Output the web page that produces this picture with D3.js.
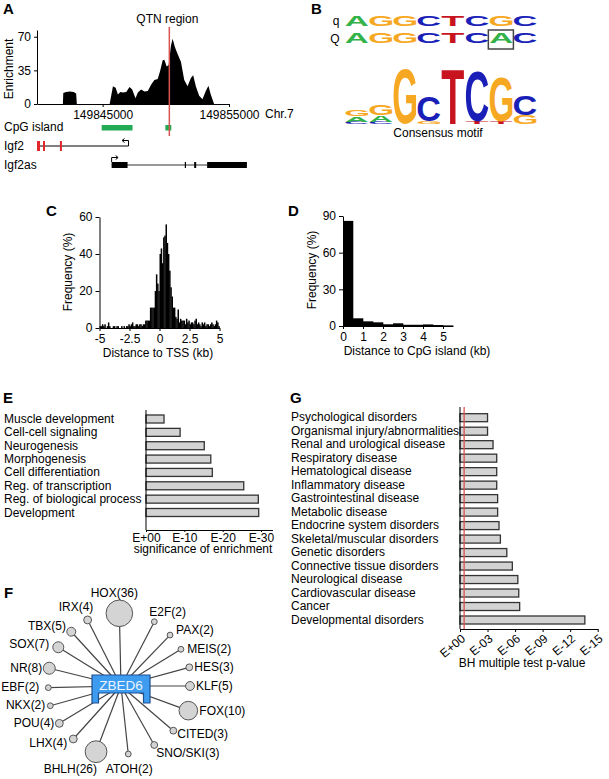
<!DOCTYPE html>
<html><head><meta charset="utf-8">
<script src="https://cdn.jsdelivr.net/npm/d3@7"></script>
<style>
body{margin:0;background:#fff}
svg{display:block}
</style>
</head><body>
<svg id="fig" width="609" height="779"></svg>
<script>
// ================= DATA =================
// Panel A: ChIP enrichment profile (bp position, enrichment)
const profilePos = [149841850,149841880,149842100,149842400,149842700,149842900,149842953,
  149845551,149845813,149846024,149846207,149846391,149846601,149846864,149847126,149847336,
  149847598,149847782,149848045,149848307,149848570,149848832,149849094,149849357,149849541,
  149849751,149849882,149850066,149850223,149850406,149850538,149850721,149850931,149851194,
  149851457,149851719,149851982,149852165,149852375,149852638,149852900,149853163,149853373,
  149853557,149853819];
const profileVal = [0,11.5,12.5,13,12.5,11,0,
  0,18.6,17,10,12.5,12,12.5,17.6,15,6,12,15,13,13.5,20,25,26,34,45.6,46,39,40.6,61,68,59,52,44,25,18.6,27,30,18.6,8.5,5,13.5,19,10,0];
const enrichTicks = [0, 35, 70];
const chrTicks = [149845000, 149855000];
const qtnPos = 149850276;
const cpgStart = [149844921, 149849961];
const cpgEnd   = [149847362, 149850433];
const igf2Span = [149839803, 149847047];
const igf2ExonStart = [149839803, 149840276, 149841614];
const igf2ExonEnd   = [149840039, 149840433, 149841772];
const igf2asSpan = [149845709, 149853268];
const igf2asExonStart = [149845709, 149851500, 149852244, 149853268];
const igf2asExonEnd   = [149846969, 149851580, 149852402, 149856417];

// Panel B: sequences and consensus motif
const seqNames = ["q", "Q"];
const seqRows = ["AGGCTCGC", "AGGCTCAC"];
const motifPos = [1, 2, 3, 4, 5, 6, 7, 8];
const snpPos = 7;
const consensusLetters = [["C","A","G"],["C","A","G"],["G"],["G","C"],["T"],["T","C"],["T","G"],["G","C"]];
const consensusBits = [[0.07,0.2,0.24],[0.07,0.24,0.36],[1.96],[0.1,0.9],[1.96],[0.07,1.78],[0.07,1.6],[0.32,0.71]];

// Panel C: distance to TSS histogram (0.1 kb bins from -5 kb)
const tssBinFirst = -5, tssBinWidth = 0.1;
const tssFreq = [1,1,2,1,2,0,1,3,1,0,
  0,1,1,0,1,1,0,0,1,0,
  1,0,1,1,2,1,2,3,1,1,
  2,2,1,2,2,1,2,2,4,4,
  4,4,11,11,11,11,20,29,24,20,
  40,43,35,49,50,56,46,40,31,22,
  17,11,11,6,5,10,3,5,4,4,
  4,2,5,3,4,2,3,3,2,4,
  5,2,3,2,1,3,2,3,1,2,
  2,1,2,3,2,1,2,4,3,1];
const tssTicks = [-5, -2.5, 0, 2.5, 5];
const tssFreqTicks = [0, 20, 40, 60];

// Panel D: distance to CpG island histogram (0.5 kb bins)
const cpgBinWidth = 0.5;
const cpgFreq = [86, 6.3, 3.8, 3, 1.4, 2.2, 1, 1, 1.3, 0.8, 0.5];
const cpgTicks = [0, 1, 2, 3, 4, 5];
const cpgFreqTicks = [0, 30, 60, 90];

// Panel E: GO enrichment (-log10 significance)
const goTerms = ["Muscle development","Cell-cell signaling","Neurogenesis","Morphogenesis",
  "Cell differentiation","Reg. of transcription","Reg. of biological process","Development"];
const goScore = [4.7, 8.9, 15.2, 16.9, 17.3, 25.5, 29.3, 29.4];
const goTicks = [0, 10, 20, 30];
const goTickLabels = ["E+00", "E-10", "E-20", "E-30"];

// Panel G: disease categories (-log10 BH p-value)
const diseases = ["Psychological disorders","Organismal injury/abnormalities","Renal and urological disease",
  "Respiratory disease","Hematological disease","Inflammatory disease","Gastrointestinal disease",
  "Metabolic disease","Endocrine system disorders","Skeletal/muscular disorders","Genetic disorders",
  "Connective tissue disorders","Neurological disease","Cardiovascular disease","Cancer","Developmental disorders"];
const diseaseScore = [3.0, 3.0, 3.6, 4.0, 4.0, 4.0, 4.1, 4.1, 4.25, 4.4, 5.1, 5.7, 6.3, 6.4, 6.5, 13.6];
const bhTicks = [0, 3, 6, 9, 12, 15];
const bhTickLabels = ["E+00", "E-03", "E-06", "E-09", "E-12", "E-15"];
const bhThreshold = 0.45;

// Panel F: TF families bound by ZBED6 (number of genes)
const tfFamilies = ["HOX","E2F","PAX","MEIS","HES","KLF","FOX","CITED","SNO/SKI","ATOH","BHLH","LHX","POU","NKX","EBF","NR","SOX","TBX","IRX"];
const tfCounts   = [36, 2, 2, 2, 3, 5, 10, 3, 3, 2, 26, 4, 4, 2, 2, 8, 7, 5, 4];

// ================= LAYOUT / DRAWING =================
const svg = d3.select("#fig");
const FONT = '"Liberation Sans", Arial, Helvetica, sans-serif';
svg.attr("font-family", FONT).attr("font-size", 12);

function txt(x, y, s, o = {}) {
  const t = svg.append("text").attr("x", x).attr("y", y).text(s)
    .attr("text-anchor", o.anchor || "start").attr("font-size", o.size || 12)
    .attr("fill", o.fill || "#000").attr("font-family", FONT);
  if (o.bold) t.attr("font-weight", "bold");
  if (o.rotate) t.attr("transform", `rotate(${o.rotate},${x},${y})`);
  return t;
}
function styleAxis(g) {
  g.attr("font-family", FONT).attr("font-size", 12);
  g.select(".domain").attr("stroke", "#000").attr("stroke-width", 1);
  g.selectAll(".tick line").attr("stroke", "#000");
  g.selectAll(".tick text").attr("fill", "#000");
  return g;
}
const plain = d => String(d);

// panel letters
txt(3, 14, "A", {bold: true, size: 15});
txt(311, 14, "B", {bold: true, size: 15});
txt(46, 216, "C", {bold: true, size: 15});
txt(288, 216, "D", {bold: true, size: 15});
txt(3, 403, "E", {bold: true, size: 15});
txt(290, 403, "G", {bold: true, size: 15});
txt(4, 598, "F", {bold: true, size: 15});

// ---------- Panel A ----------
const xA = d3.scaleLinear().domain([149839800, 149855000]).range([37, 229]);
const yA = d3.scaleLinear().domain([0, 77]).range([104, 30]);
svg.append("path").datum(profileVal)
  .attr("d", d3.area().x((d, i) => xA(profilePos[i])).y0(yA(0)).y1(d => yA(d)))
  .attr("fill", "#000");
styleAxis(svg.append("g").attr("transform", `translate(0,${yA(0)})`)
  .call(d3.axisBottom(xA).tickValues(chrTicks).tickFormat(d3.format("d")).tickSize(3).tickSizeOuter(0)));
styleAxis(svg.append("g").attr("transform", `translate(${xA.range()[0]},0)`)
  .call(d3.axisLeft(yA).tickValues(enrichTicks).tickFormat(plain).tickSize(3).tickSizeOuter(0)));
txt(13, 69, "Enrichment", {anchor: "middle", rotate: -90});
txt(265, 118, "Chr.7");

// CpG islands
txt(4, 131, "CpG island");
svg.append("g").selectAll("rect").data(cpgStart).join("rect")
  .attr("x", d => xA(d)).attr("width", (d, i) => xA(cpgEnd[i]) - xA(d))
  .attr("y", 125).attr("height", 5.5).attr("fill", "#22aa55");

// Igf2
txt(4, 150, "Igf2");
svg.append("line").attr("x1", xA(igf2Span[0])).attr("x2", xA(igf2Span[1]))
  .attr("y1", 146).attr("y2", 146).attr("stroke", "#000").attr("stroke-width", 1);
svg.append("g").selectAll("rect").data(igf2ExonStart).join("rect")
  .attr("x", d => xA(d)).attr("width", (d, i) => Math.max(2, xA(igf2ExonEnd[i]) - xA(d)))
  .attr("y", 141).attr("height", 10).attr("fill", "#e0262a");
{
  const tx = xA(igf2Span[1]);
  svg.append("path").attr("d", `M${tx},146V140.5H${tx - 6}`).attr("fill", "none").attr("stroke", "#000");
  svg.append("path").attr("d", `M${tx - 4},138.5L${tx - 6.5},140.5L${tx - 4},142.5`).attr("fill", "none").attr("stroke", "#000");
}
// Igf2as
txt(4, 169, "Igf2as");
svg.append("line").attr("x1", xA(igf2asSpan[0])).attr("x2", xA(igf2asSpan[1]))
  .attr("y1", 165).attr("y2", 165).attr("stroke", "#333").attr("stroke-width", 1);
svg.append("g").selectAll("rect").data(igf2asExonStart).join("rect")
  .attr("x", d => xA(d)).attr("width", (d, i) => Math.max(1.2, xA(igf2asExonEnd[i]) - xA(d)))
  .attr("y", 162).attr("height", 6).attr("fill", "#000");
{
  const sx = xA(igf2asSpan[0]);
  svg.append("path").attr("d", `M${sx},162V157.5H${sx + 6}`).attr("fill", "none").attr("stroke", "#000");
  svg.append("path").attr("d", `M${sx + 4},155.5L${sx + 6.5},157.5L${sx + 4},159.5`).attr("fill", "none").attr("stroke", "#000");
}
// QTN line
svg.append("line").attr("x1", xA(qtnPos)).attr("x2", xA(qtnPos)).attr("y1", 27).attr("y2", 136)
  .attr("stroke", "#d9534f").attr("stroke-width", 1.5);
txt(xA(qtnPos) - 2, 23, "QTN region", {anchor: "middle"});

// ---------- Panel B ----------
const ctx = document.createElement("canvas").getContext("2d");
ctx.font = 'bold 100px "Liberation Sans"';
const letterColor = {A: "#33b24a", C: "#1a1fb8", G: "#f7a823", T: "#c8141e"};
function glyph(ch, x, y, w, h) {
  if (h < 0.5) return;
  const m = ctx.measureText(ch);
  const L = m.actualBoundingBoxLeft, R = m.actualBoundingBoxRight;
  const A = m.actualBoundingBoxAscent, D = m.actualBoundingBoxDescent;
  const sx = w / (L + R), sy = h / (A + D);
  svg.append("text").text(ch).attr("font-family", '"Liberation Sans"').attr("font-weight", "bold")
    .attr("font-size", 100).attr("fill", letterColor[ch])
    .attr("transform", `translate(${x + L * sx},${y + A * sy}) scale(${sx},${sy})`);
}
const bx = d3.scaleBand().domain(motifPos).range([345, 537]).paddingInner(0.06).paddingOuter(0.02);
const rowTop = [16, 33.5], rowH = 9.8, rowBase = [24.5, 43];
seqRows.forEach((row, r) => {
  txt(339.5, rowBase[r], seqNames[r], {anchor: "end"});
  row.split("").forEach((ch, i) => glyph(ch, bx(motifPos[i]), rowTop[r], bx.bandwidth(), rowH));
});
svg.append("rect").attr("x", bx(snpPos) - 1.5).attr("y", 30).attr("width", bx.step() + 1).attr("height", 19)
  .attr("fill", "none").attr("stroke", "#444").attr("stroke-width", 1.5);
const yB = d3.scaleLinear().domain([0, 2]).range([124, 68]);
consensusLetters.forEach((stack, i) => {
  let acc = 0;
  stack.forEach((ch, j) => {
    const b = consensusBits[i][j];
    const yTop = yB(acc + b), yBot = yB(acc);
    glyph(ch, bx(motifPos[i]), yTop, bx.bandwidth(), yBot - yTop);
    acc += b;
  });
});
txt(438, 137, "Consensus motif", {anchor: "middle"});

// ---------- Panel C ----------
const xC = d3.scaleLinear().domain([-5, 5]).range([99.5, 219.5]);
const yC = d3.scaleLinear().domain([0, 60]).range([328, 217]);
svg.append("g").selectAll("rect").data(tssFreq).join("rect")
  .attr("x", (d, i) => xC(tssBinFirst + i * tssBinWidth))
  .attr("width", xC(tssBinWidth) - xC(0) + 0.3)
  .attr("y", d => yC(d)).attr("height", d => yC(0) - yC(d)).attr("fill", "#000");
styleAxis(svg.append("g").attr("transform", `translate(0,${yC(0)})`)
  .call(d3.axisBottom(xC).tickValues(tssTicks).tickFormat(plain).tickSize(3).tickSizeOuter(0)));
styleAxis(svg.append("g").attr("transform", `translate(${xC(-5)},0)`)
  .call(d3.axisLeft(yC).tickValues(tssFreqTicks).tickFormat(plain).tickSize(4).tickSizeOuter(0)));
txt(158, 357, "Distance to TSS (kb)", {anchor: "middle"});
txt(72, 272, "Frequency (%)", {anchor: "middle", rotate: -90});

// ---------- Panel D ----------
const xD = d3.scaleLinear().domain([0, 5.5]).range([343, 453]);
const yD = d3.scaleLinear().domain([0, 90]).range([326, 216]);
svg.append("g").selectAll("rect").data(cpgFreq).join("rect")
  .attr("x", (d, i) => xD(i * cpgBinWidth))
  .attr("width", xD(cpgBinWidth) - xD(0) + 0.3)
  .attr("y", d => yD(d)).attr("height", d => yD(0) - yD(d)).attr("fill", "#000");
styleAxis(svg.append("g").attr("transform", `translate(0,${yD(0)})`)
  .call(d3.axisBottom(xD).tickValues(cpgTicks).tickFormat(plain).tickSize(3).tickSizeOuter(0)));
styleAxis(svg.append("g").attr("transform", `translate(${xD(0)},0)`)
  .call(d3.axisLeft(yD).tickValues(cpgFreqTicks).tickFormat(plain).tickSize(4).tickSizeOuter(0)));
txt(417, 355, "Distance to CpG island (kb)", {anchor: "middle"});
txt(316, 270, "Frequency (%)", {anchor: "middle", rotate: -90});

// ---------- Panel E ----------
const xE = d3.scaleLinear().domain([0, 33]).range([146, 272.5]);
const yE = d3.scalePoint().domain(goTerms).range([419, 512.5]);
const axisYE = 530;
svg.append("g").selectAll("rect").data(goScore).join("rect")
  .attr("x", xE(0)).attr("y", (d, i) => yE(goTerms[i]) - 4)
  .attr("width", d => xE(d) - xE(0)).attr("height", 8)
  .attr("fill", "#d3d3d3").attr("stroke", "#333").attr("stroke-width", 1.3);
goTerms.forEach(t => txt(4, yE(t) + 4, t));
svg.append("line").attr("x1", xE(0)).attr("x2", xE(0)).attr("y1", 410).attr("y2", axisYE)
  .attr("stroke", "#000");
styleAxis(svg.append("g").attr("transform", `translate(0,${axisYE})`)
  .call(d3.axisBottom(xE).tickValues(goTicks).tickFormat((d, i) => goTickLabels[i]).tickSize(2).tickPadding(1).tickSizeOuter(0)));
txt(203, 553, "significance of enrichment", {anchor: "middle"});

// ---------- Panel G ----------
const xG = d3.scaleLinear().domain([0, 15]).range([460, 597.7]);
const yG = d3.scalePoint().domain(diseases).range([417.7, 620]);
const axisYG = 629;
svg.append("g").selectAll("rect").data(diseaseScore).join("rect")
  .attr("x", xG(0)).attr("y", (d, i) => yG(diseases[i]) - 4)
  .attr("width", d => xG(d) - xG(0)).attr("height", 8)
  .attr("fill", "#d3d3d3").attr("stroke", "#333").attr("stroke-width", 1.3);
diseases.forEach(t => txt(291, yG(t) + 3.5, t));
svg.append("line").attr("x1", xG(0)).attr("x2", xG(0)).attr("y1", 407).attr("y2", axisYG).attr("stroke", "#000");
styleAxis(svg.append("g").attr("transform", `translate(0,${axisYG})`)
  .call(d3.axisBottom(xG).tickValues(bhTicks).tickFormat("").tickSize(3).tickSizeOuter(0)));
bhTicks.forEach((t, i) => {
  const x = xG(t) + 6, y = axisYG + 11;
  txt(x, y, bhTickLabels[i], {anchor: "end", rotate: -40});
});
svg.append("line").attr("x1", xG(bhThreshold)).attr("x2", xG(bhThreshold)).attr("y1", 407).attr("y2", axisYG)
  .attr("stroke", "#e05050").attr("stroke-width", 1.3);
txt(522, 667, "BH multiple test p-value", {anchor: "middle"});

// ---------- Panel F ----------
// layout: [angle (deg), distance, label anchor, label dx, label dy]
const tfLayout = [
  [91.3, 72.7, "middle", -5, -16.3],
  [62.6, 72.4, "start", -5, -6],
  [46.1, 70.7, "start", 6, -1],
  [31.5, 70.3, "start", 6.3, 4],
  [15.3, 70.8, "start", 5, 4],
  [0, 69, "start", 6, 4],
  [-20.1, 71.7, "start", 11, 4.3],
  [-40.5, 68.8, "start", 4, 7.6],
  [-60.6, 67.7, "start", 2, 11.7],
  [-83.9, 68.4, "middle", 1, 19],
  [249.2, 70.3, "middle", -25.7, 21.3],
  [228, 71.3, "end", -6, 7.7],
  [211.2, 72.1, "end", -5, 3.4],
  [195.6, 73.4, "end", -5, 3.3],
  [181.3, 72.7, "end", -9, 3],
  [166.1, 73.9, "end", -7, 3.7],
  [148.3, 73.7, "end", -9, 0.7],
  [132.5, 73.6, "end", -5.3, -1.7],
  [116.8, 74, "end", 5.7, -9]
];
const fcx = 121, fcy = 686;
const rF = d3.scaleLinear().domain([2, 8, 10, 26, 36]).range([2.9, 6, 9.3, 10.9, 13.3]);
const nodes = tfFamilies.map((f, i) => {
  const [ang, dist, anchor, dx, dy] = tfLayout[i];
  const a = ang * Math.PI / 180;
  return {name: f, n: tfCounts[i], x: fcx + dist * Math.cos(a), y: fcy - dist * Math.sin(a), anchor, dx, dy};
});
svg.append("g").selectAll("line").data(nodes).join("line")
  .attr("x1", fcx).attr("y1", fcy).attr("x2", d => d.x).attr("y2", d => d.y)
  .attr("stroke", "#444").attr("stroke-width", 1.2);
svg.append("g").selectAll("circle").data(nodes).join("circle")
  .attr("cx", d => d.x).attr("cy", d => d.y).attr("r", d => rF(d.n))
  .attr("fill", "#d4d4d4").attr("stroke", "#555").attr("stroke-width", 1);
nodes.forEach(d => txt(d.x + d.dx, d.y + d.dy, `${d.name}(${d.n})`, {anchor: d.anchor}));
svg.append("path").attr("d", "M92,675H150V703H143.5V693H98.5V703H92Z")
  .attr("fill", "#3d9cf0").attr("stroke", "#1d4f91").attr("stroke-width", 1.2);
txt(121, 689.5, "ZBED6", {anchor: "middle", size: 13.5, fill: "#eaf5ff"});
</script>
</body></html>
